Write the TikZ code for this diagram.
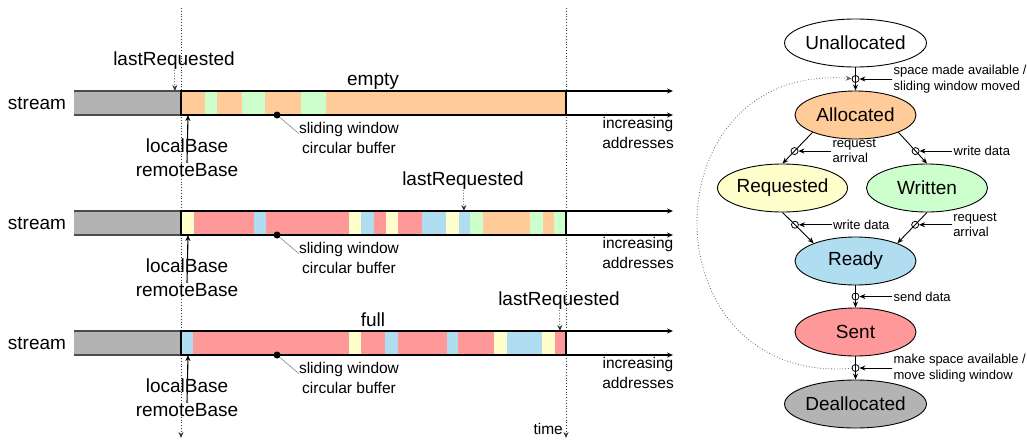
\documentclass[tikz,border=0pt]{standalone}
\usepackage{fontspec}
\setmainfont{Liberation Sans}
\usetikzlibrary{arrows.meta,shapes.geometric,positioning}

\definecolor{memorange}{HTML}{FFCC99}
\definecolor{memgreen}{HTML}{CCFFCC}
\definecolor{memyellow}{HTML}{FFFFCC}
\definecolor{memblue}{HTML}{B1DDF0}
\definecolor{memred}{HTML}{FF9999}
\definecolor{memgray}{HTML}{B3B3B3}

\tikzset{
  biglabel/.style={font=\fontsize{19}{24}\selectfont, inner sep=0pt, align=center},
  smalllabel/.style={font=\fontsize{15.5}{19.5}\selectfont, inner sep=0pt, align=center},
  translabel/.style={font=\fontsize{13}{15.5}\selectfont, inner sep=1pt, align=left},
  statenode/.style={ellipse, draw, line width=0.9pt, minimum width=121pt, minimum height=48pt,
    inner sep=0pt, font=\fontsize{19}{22}\selectfont},
  junction/.style={circle, draw, line width=0.8pt, inner sep=0pt, minimum size=7pt},
  timeline/.style={dotted, line width=0.8pt, black!80},
}

\begin{document}
\begin{tikzpicture}[x=1pt, y=-1pt, >={Stealth[length=6pt,width=5pt]}]
\useasboundingbox (0,0) rectangle (1027,442);

% time axes
\draw[timeline,->] (181,8) -- (181,438);
\draw[timeline,->] (566,8) -- (566,438);
\node[smalllabel, anchor=east] (time) at (563,429) {time};

% buffer contents
\foreach \a/\b/\c in {181/205/memorange, 205/217/memgreen, 217/242/memorange, 242/265/memgreen,
    265/301/memorange, 301/326/memgreen, 326/566/memorange}
  \fill[\c] (\a,91) rectangle (\b,115);
\foreach \a/\b/\c in {181/194/memyellow, 194/254/memred, 254/266/memblue, 266/349/memred,
    349/361/memyellow, 361/374/memblue, 374/386/memred, 386/398/memyellow, 398/422/memred,
    422/446/memblue, 446/459/memyellow, 459/470/memblue, 470/483/memgreen, 483/530/memorange,
    530/543/memgreen, 543/554/memorange, 554/566/memgreen}
  \fill[\c] (\a,211) rectangle (\b,235);
\foreach \a/\b/\c in {181/193/memblue, 193/349/memred, 349/361/memyellow, 361/385/memred,
    385/398/memblue, 398/447/memred, 447/458/memblue, 458/494/memred, 494/507/memyellow,
    507/542/memblue, 542/555/memyellow, 555/566/memred}
  \fill[\c] (\a,331) rectangle (\b,355);

% the three streams
\foreach \i/\dy in {1/0, 2/120, 3/240}{
  \begin{scope}[shift={(0,\dy)}]
    \node[biglabel] (stream\i) at (37,103) {stream};
    \fill[memgray] (74,91) rectangle (181,115);
    \draw[black!70, line width=1.2pt] (74,91) -- (181,91) (74,115) -- (181,115);
    \draw[line width=2.5pt] (181,91) rectangle (566,115);
    \draw[->, line width=1.2pt] (566,91) -- (673,91);
    \draw[->, line width=1.2pt] (566,115) -- (673,115);
    \node[biglabel] (base\i) at (187,158) {localBase\\remoteBase};
    \coordinate (bar\i) at (188,115);
    \draw[->, line width=1.1pt] ([yshift=-5pt]base\i.center) -- (bar\i);
    \node[smalllabel] (win\i) at (349,138) {sliding window\\circular buffer};
    \coordinate (dot\i) at (277,115);
    \draw[black!60] (dot\i) -- (win\i.175);
    \fill (dot\i) circle (3.5pt);
    \node[smalllabel] (addr\i) at (638,133) {increasing\\addresses};
  \end{scope}
}

\node[biglabel] (empty) at (373,81) {empty};
\node[biglabel] (full) at (373,320) {full};

\node[biglabel] (last1) at (174,61) {lastRequested};
\coordinate (top1) at (175,91);
\draw[timeline,->] (last1) -- (top1);
\node[biglabel] (last2) at (463,181) {lastRequested};
\coordinate (top2) at (464,211);
\draw[timeline,->] (last2) -- (top2);
\node[biglabel] (last3) at (559,301) {lastRequested};
\coordinate (top3) at (560,331);
\draw[timeline,->] (last3) -- (top3);

% state diagram
\node[statenode] (unalloc) at (855.5,43) {Unallocated};
\node[statenode, fill=memorange] (alloc) at (855.5,115) {Allocated};
\node[statenode, fill=memyellow] (requested) at (782.5,188) {Requested};
\node[statenode, fill=memgreen] (written) at (927,188) {Written};
\node[statenode, fill=memblue] (ready) at (855.5,261) {Ready};
\node[statenode, fill=memred] (sent) at (855.5,332) {Sent};
\node[statenode, fill=memgray] (dealloc) at (855.5,404) {Deallocated};

\draw[->, line width=0.9pt] (unalloc) -- node[junction] (j1) {} (alloc);
\draw[->, line width=0.9pt] (alloc.202) -- node[junction, pos=0.6] (j2) {} (requested.north);
\draw[->, line width=0.9pt] (alloc.338) -- node[junction, pos=0.6] (j3) {} (written.north);
\draw[->, line width=0.9pt] (requested.south) -- node[junction, pos=0.4] (j4) {} (ready.157);
\draw[->, line width=0.9pt] (written.south) -- node[junction, pos=0.4] (j5) {} (ready.23);
\draw[->, line width=0.9pt] (ready) -- node[junction] (j6) {} (sent);
\draw[->, line width=0.9pt] (sent) -- node[junction] (j7) {} (dealloc);

\node[translabel, right=33pt of j1] (lab1) {space made available /\\sliding window moved};
\node[translabel, right=33pt of j2] (lab2) {request\\arrival};
\node[translabel, right=33pt of j3] (lab3) {write data};
\node[translabel, right=33pt of j4] (lab4) {write data};
\node[translabel, right=33pt of j5] (lab5) {request\\arrival};
\node[translabel, right=33pt of j6] (lab6) {send data};
\node[translabel, right=33pt of j7] (lab7) {make space available /\\move sliding window};
\foreach \k in {1,...,7}
  \draw[->, line width=0.9pt] (lab\k) -- (j\k);

\draw[timeline, black!60, ->] (j7) .. controls (646,385) and (646,62) .. (j1);
\end{tikzpicture}
\end{document}
